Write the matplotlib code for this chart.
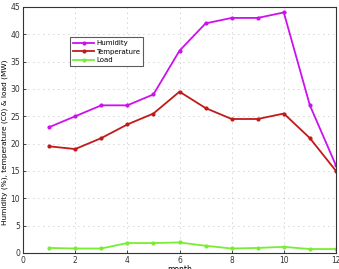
import numpy as np
import matplotlib.pyplot as plt

months = np.arange(1, 13)
humidity = [23, 25, 27, 27, 29, 37, 42, 43, 43, 44, 27, 16]
temperature = [19.5, 19, 21, 23.5, 25.5, 29.5, 26.5, 24.5, 24.5, 25.5, 21, 15]
load = [0.9, 0.8, 0.8, 1.8, 1.8, 1.9, 1.3, 0.8, 0.9, 1.1, 0.7, 0.7]

fig = plt.figure(figsize=(3.39, 2.69), dpi=100)
ax = fig.add_axes([0.068, 0.06, 0.923, 0.914])

ax.plot(months, humidity, color='#cc11ee', marker='.', markersize=4, linewidth=1.3, label='Humidity')
ax.plot(months, temperature, color='#c01a1a', marker='.', markersize=4, linewidth=1.3, label='Temperature')
ax.plot(months, load, color='#77ee33', marker='.', markersize=4, linewidth=1.3, label='Load')

ax.set_xlim(0, 12)
ax.set_ylim(0, 45)
ax.set_xticks(range(0, 13, 2))
ax.set_yticks(range(0, 46, 5))
ax.tick_params(labelsize=5.5, length=2, width=0.5, direction='in', pad=2, labelcolor='#333333')
ax.grid(True, linestyle=(0, (1, 5)), color='#aaaaaa', linewidth=0.6)
for s in ax.spines.values():
    s.set_linewidth(0.8)
    s.set_color('#333333')

ax.set_xlabel('month', fontsize=5.5, labelpad=0)
ax.set_ylabel('Humidity (%), temperature (C0) & load (MW)', fontsize=5.3, labelpad=2)
ax.yaxis.set_label_coords(-0.048, 0.45)

leg = ax.legend(loc='upper left', bbox_to_anchor=(0.15, 0.877), fontsize=5, frameon=True,
                fancybox=False, edgecolor='#333333', handlelength=3.0, borderpad=0.45,
                labelspacing=0.35, handletextpad=0.3, borderaxespad=0)
leg.get_frame().set_linewidth(0.8)

fig.savefig('out.png', dpi=100)
